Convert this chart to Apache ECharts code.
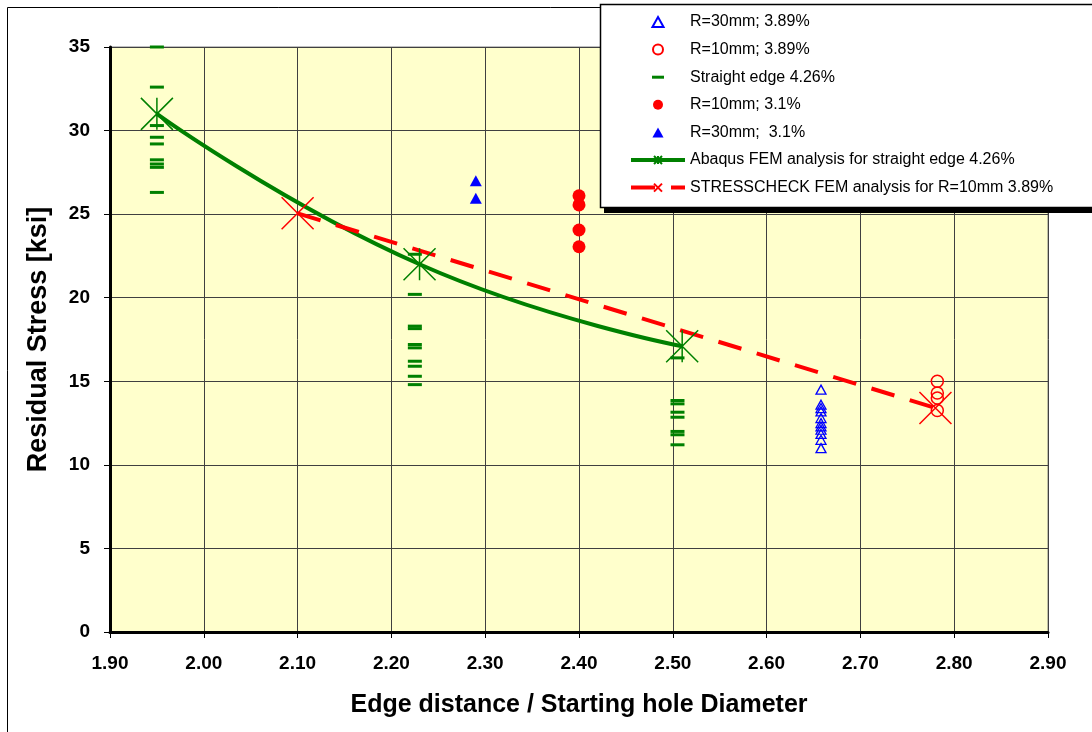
<!DOCTYPE html>
<html>
<head>
<meta charset="utf-8">
<script src="https://cdn.jsdelivr.net/npm/echarts@6/dist/echarts.min.js"></script>
<style>
  html, body { margin: 0; padding: 0; background: #fff; }
  #chart { width: 1092px; height: 732px; }
</style>
</head>
<body>
<div id="chart"></div>
<script>
// x positions (edge distance / hole diameter) and stresses in ksi
var xTicks = [1.9, 2.0, 2.1, 2.2, 2.3, 2.4, 2.5, 2.6, 2.7, 2.8, 2.9];

var straightX = [1.95, 2.225, 2.505];
var straightY = [
  [35.0, 32.6, 30.3, 29.6, 29.2, 28.25, 28.0, 27.8, 26.3],
  [22.6, 20.2, 18.3, 18.15, 17.2, 17.0, 16.2, 15.9, 15.3, 14.8],
  [16.4, 13.85, 13.65, 13.15, 12.85, 12.0, 11.8, 11.2]
];

var r30a_x = 2.658;
var r30a_y = [14.5, 13.6, 13.4, 13.2, 12.8, 12.5, 12.3, 12.1, 11.85, 11.5, 11.0];

var r10a_x = 2.782;
var r10a_y = [15.0, 14.3, 14.0, 13.25];

var r10b_x = 2.40;
var r10b_y = [26.1, 25.55, 24.05, 23.05];

var r30b_x = 2.29;
var r30b_y = [27.0, 25.95];

var abaqusX = [1.95, 2.23, 2.51];
var abaqusY = [31.0, 22.0, 17.1];

var stressX = [2.10, 2.78];
var stressY = [25.05, 13.4];

function pairs(x, ys) {
  return ys.map(function (y) { return [x, y]; });
}
function zip(xs, ys) {
  return xs.map(function (x, i) { return [x, ys[i]]; });
}

var straightData = [];
straightX.forEach(function (x, i) {
  straightData = straightData.concat(pairs(x, straightY[i]));
});

var FONT = 'Arial, "Liberation Sans", sans-serif';
var STAR = 'path://M0,0L20,20M20,0L0,20M10,0L10,20';
var CROSS = 'path://M0,0L20,20M20,0L0,20';

var chartDom = document.getElementById('chart');
var myChart = echarts.init(chartDom);

var option = {
  backgroundColor: '#ffffff',
  animation: false,
  graphic: [
    {
      type: 'rect',
      z: -10,
      shape: { x: 7.5, y: 7.5, width: 1100, height: 740 },
      style: { fill: 'none', stroke: '#000', lineWidth: 1 }
    },
    // legend box with its hard shadow
    {
      type: 'rect',
      z: 8,
      shape: { x: 604, y: 9, width: 500, height: 204 },
      style: { fill: '#000' }
    },
    {
      type: 'rect',
      z: 9,
      shape: { x: 600.5, y: 4.5, width: 500, height: 203 },
      style: { fill: '#fff', stroke: '#000', lineWidth: 1.5 }
    }
  ],
  grid: {
    left: 110,
    top: 47,
    right: 44,
    bottom: 100,
    show: true,
    backgroundColor: '#FFFFCC',
    borderColor: '#808080',
    borderWidth: 1
  },
  legend: {
    left: 600,
    top: 5,
    z: 10,
    orient: 'vertical',
    padding: [9, 90, 12, 29],
    symbolKeepAspect: true,
    itemWidth: 54,
    itemHeight: 10,
    itemGap: 11.6,
    lineStyle: { width: 4 },
    textStyle: { fontFamily: FONT, fontSize: 16, color: '#000', lineHeight: 16 },
    data: [
      { name: 'R=30mm; 3.89%', icon: 'path://M5,0L10,9L0,9Z' },
      { name: 'R=10mm; 3.89%', icon: 'circle' },
      { name: 'Straight edge 4.26%', icon: 'path://M0,0M54,10M21,3.5h12v3h-12z' },
      { name: 'R=10mm; 3.1%', icon: 'circle' },
      { name: 'R=30mm;  3.1%', icon: 'path://M5,0L10,9L0,9Z' },
      { name: 'Abaqus FEM analysis for straight edge 4.26%' },
      { name: 'STRESSCHECK FEM analysis for R=10mm 3.89%' }
    ]
  },
  xAxis: {
    type: 'value',
    min: 1.9,
    max: 2.9,
    interval: 0.1,
    name: 'Edge distance / Starting hole Diameter',
    nameLocation: 'middle',
    nameGap: 61,
    nameTextStyle: { fontFamily: FONT, fontSize: 25, fontWeight: 'bold', color: '#000' },
    axisLine: { show: true, onZero: false, lineStyle: { color: '#000', width: 3 } },
    axisTick: { show: true, inside: false, length: 6, lineStyle: { color: '#000', width: 1 } },
    axisLabel: {
      margin: 22,
      fontFamily: FONT,
      fontSize: 19,
      fontWeight: 'bold',
      color: '#000',
      formatter: function (v) { return v.toFixed(2); }
    },
    splitLine: { show: true, lineStyle: { color: '#404040', width: 1 } }
  },
  yAxis: {
    type: 'value',
    min: 0,
    max: 35,
    interval: 5,
    name: 'Residual Stress [ksi]',
    nameLocation: 'middle',
    nameGap: 58,
    nameTextStyle: { fontFamily: FONT, fontSize: 27, fontWeight: 'bold', color: '#000' },
    axisLine: { show: true, onZero: false, lineStyle: { color: '#000', width: 3 } },
    axisTick: { show: true, inside: false, length: 6, lineStyle: { color: '#000', width: 1 } },
    axisLabel: { margin: 20, fontFamily: FONT, fontSize: 19, fontWeight: 'bold', color: '#000' },
    splitLine: { show: true, lineStyle: { color: '#404040', width: 1 } }
  },
  series: [
    {
      name: 'R=30mm; 3.89%',
      type: 'scatter',
      symbol: 'triangle',
      symbolSize: [10, 9],
      itemStyle: { color: 'none', borderColor: '#0000FF', borderWidth: 1.3, opacity: 1 },
      data: pairs(r30a_x, r30a_y),
      z: 3
    },
    {
      name: 'R=10mm; 3.89%',
      type: 'scatter',
      symbol: 'circle',
      symbolSize: 12,
      itemStyle: { color: 'none', borderColor: '#FF0000', borderWidth: 1.5, opacity: 1 },
      data: pairs(r10a_x, r10a_y),
      z: 3
    },
    {
      name: 'Straight edge 4.26%',
      type: 'scatter',
      symbol: 'rect',
      symbolSize: [14, 3],
      itemStyle: { color: '#008000', opacity: 1 },
      data: straightData,
      z: 3
    },
    {
      name: 'R=10mm; 3.1%',
      type: 'scatter',
      symbol: 'circle',
      symbolSize: 13,
      itemStyle: { color: '#FF0000', opacity: 1 },
      data: pairs(r10b_x, r10b_y),
      z: 3
    },
    {
      name: 'R=30mm;  3.1%',
      type: 'scatter',
      symbol: 'triangle',
      symbolSize: [12, 11],
      itemStyle: { color: '#0000FF', opacity: 1 },
      data: pairs(r30b_x, r30b_y),
      z: 3
    },
    {
      name: 'Abaqus FEM analysis for straight edge 4.26%',
      type: 'line',
      smooth: 0.5,
      symbol: STAR,
      symbolSize: 32,
      showAllSymbol: true,
      itemStyle: { color: 'none', borderColor: '#008000', borderWidth: 1.5 },
      lineStyle: { color: '#008000', width: 4 },
      data: zip(abaqusX, abaqusY),
      z: 4
    },
    {
      name: 'STRESSCHECK FEM analysis for R=10mm 3.89%',
      type: 'line',
      symbol: CROSS,
      symbolSize: 32,
      itemStyle: { color: 'none', borderColor: '#FF0000', borderWidth: 1.5 },
      lineStyle: { color: '#FF0000', width: 4, type: [24, 16] },
      data: zip(stressX, stressY),
      z: 4
    }
  ]
};

option && myChart.setOption(option);
</script>
</body>
</html>
